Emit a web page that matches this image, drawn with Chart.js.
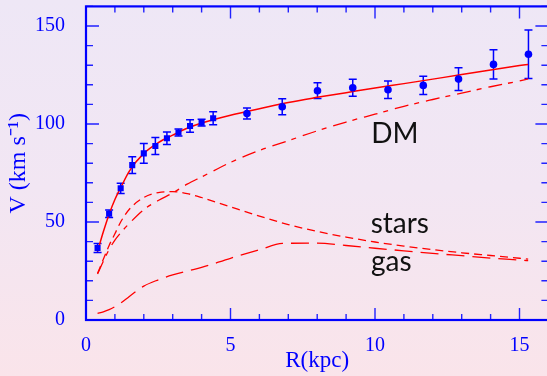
<!DOCTYPE html>
<html><head><meta charset="utf-8">
<script src="https://cdn.jsdelivr.net/npm/chart.js@4.4.0/dist/chart.umd.min.js"></script>
<style>
html,body{margin:0;padding:0;width:547px;height:376px;overflow:hidden;
background:linear-gradient(to bottom,#eee7f6 0%,#f2e6f3 50%,#fae4ea 100%);}
canvas{display:block;}
</style></head><body>
<canvas id="c" width="560" height="376"></canvas>
<script>
// ---- observed rotation curve (squares: inner, circles: outer) ----
const innerR   = [0.4, 0.8, 1.2, 1.6, 2.0, 2.4, 2.8, 3.2, 3.6, 4.0, 4.4];
const innerV   = [36.7, 54.2, 67.2, 79.0, 85.0, 88.8, 92.7, 95.7, 99.0, 100.7, 102.9];
const innerErr = [2.3, 1.9, 2.6, 4.3, 5.0, 4.3, 3.2, 1.8, 3.2, 1.7, 3.3];

const outerR   = [5.57, 6.79, 8.01, 9.23, 10.45, 11.67, 12.89, 14.10, 15.31];
const outerV   = [105.3, 108.8, 117.0, 118.5, 117.5, 119.7, 122.9, 130.4, 135.6];
const outerErr = [2.8, 4.1, 4.0, 4.3, 4.5, 4.6, 5.8, 7.5, 12.4];

// ---- model curves ----
const modelR = [0.4, 0.6, 0.8, 1.0, 1.2, 1.5, 2.0, 2.5, 3.0, 3.5, 4.0, 5.0, 6.0, 7.0, 8.0, 9.0, 10.0, 11.0, 12.0, 13.0, 14.0, 15.0, 15.3];
const totalV = [35.0, 45.0, 54.0, 61.5, 67.5, 76.0, 85.0, 90.5, 94.3, 97.8, 100.5, 104.5, 107.8, 111.0, 113.6, 116.0, 118.4, 120.6, 122.9, 125.2, 127.6, 129.8, 130.4];
const dmV    = [23.5, 30.0, 36.0, 40.8, 44.5, 49.3, 56.3, 61.0, 64.8, 69.3, 73.0, 80.4, 86.5, 91.5, 96.5, 101.0, 105.0, 109.0, 112.5, 115.8, 119.0, 122.0, 123.0];
const starsV = [23.8, 31.0, 38.0, 44.0, 50.0, 56.5, 62.5, 65.0, 65.5, 64.5, 62.5, 57.7, 53.0, 48.7, 45.2, 42.3, 39.8, 37.7, 35.9, 34.3, 32.9, 31.5, 31.1];
const gasR   = [0.4, 0.6, 0.8, 1.0, 1.2, 1.5, 2.0, 2.5, 3.0, 3.5, 4.0, 5.0, 6.0, 6.8, 8.0, 9.0, 10.0, 11.0, 12.0, 13.0, 14.0, 15.0, 15.3];
const gasV   = [3.4, 4.2, 5.3, 6.8, 8.6, 12.0, 17.3, 20.5, 23.0, 25.0, 26.8, 31.5, 35.8, 39.1, 39.2, 38.0, 36.6, 35.3, 34.0, 32.8, 31.6, 30.6, 30.3];

// ---- axes / labels ----
const xMin = 0, xMax = 16, xMajor = 5, xMinor = 1;
const yMin = 0, yMax = 160, yMajor = 50, yMinor = 10;
const xTitle = 'R(kpc)';
const yTitle = 'V (km s\u207B\u00B9)';
const curveLabels = ['DM', 'stars', 'gas'];
const labelR = [9.87, 9.85, 9.86];
const labelV = [90.5, 44.3, 25.0];

const BLUE = '#0000ff', RED = '#ff0000';
const pts = (xs, ys) => xs.map((v, i) => ({x: v, y: ys[i]}));

const errorBars = {
  id: 'errorBars',
  beforeDatasetsDraw(chart) {
    const {ctx, scales: {x, y}} = chart;
    ctx.save();
    ctx.strokeStyle = BLUE;
    ctx.lineWidth = 1.5;
    const draw = (R, V, E) => {
      for (let i = 0; i < R.length; i++) {
        const px = x.getPixelForValue(R[i]);
        const p1 = y.getPixelForValue(V[i] - E[i]);
        const p2 = y.getPixelForValue(V[i] + E[i]);
        ctx.beginPath();
        ctx.moveTo(px, p1); ctx.lineTo(px, p2);
        ctx.moveTo(px - 4, p1); ctx.lineTo(px + 4, p1);
        ctx.moveTo(px - 4, p2); ctx.lineTo(px + 4, p2);
        ctx.stroke();
      }
    };
    draw(innerR, innerV, innerErr);
    draw(outerR, outerV, outerErr);
    ctx.restore();
  }
};

const frame = {
  id: 'frame',
  afterDraw(chart) {
    const {ctx, chartArea: a, scales: {x, y}} = chart;
    ctx.save();
    ctx.strokeStyle = '#2222ff';
    ctx.lineWidth = 1.4;
    ctx.beginPath();
    for (let k = 0; k <= (xMax - xMin) / xMinor; k++) {
      const v = xMin + k * xMinor;
      const px = x.getPixelForValue(v);
      const L = (Math.round(v) % xMajor === 0) ? 12 : 6;
      ctx.moveTo(px, a.bottom); ctx.lineTo(px, a.bottom - L);
      ctx.moveTo(px, a.top); ctx.lineTo(px, a.top + L);
    }
    for (let k = 0; k <= (yMax - yMin) / yMinor; k++) {
      const v = yMin + k * yMinor;
      const py = y.getPixelForValue(v);
      const L = (Math.round(v) % yMajor === 0) ? 13 : 7;
      ctx.moveTo(a.left, py); ctx.lineTo(a.left + L, py);
      ctx.moveTo(a.right, py); ctx.lineTo(a.right - L, py);
    }
    ctx.stroke();
    ctx.strokeStyle = BLUE;
    ctx.lineWidth = 2.2;
    ctx.strokeRect(a.left, a.top, a.right - a.left, a.bottom - a.top);
    ctx.fillStyle = '#111111';
    ctx.font = '28px Lato';
    ctx.textBaseline = 'alphabetic';
    ctx.textAlign = 'left';
    curveLabels.forEach((t, i) => ctx.fillText(t, x.getPixelForValue(labelR[i]), y.getPixelForValue(labelV[i])));
    ctx.restore();
  }
};

const lineDs = (xs, ys, dash, width) => ({
  type: 'line', data: pts(xs, ys), borderColor: RED, borderWidth: width,
  borderDash: dash, pointRadius: 0, fill: false, cubicInterpolationMode: 'monotone'
});

new Chart(document.getElementById('c'), {
  type: 'scatter',
  data: {
    datasets: [
      {data: pts(innerR, innerV), pointStyle: 'rect', pointRadius: 4.3, backgroundColor: BLUE, borderWidth: 0},
      {data: pts(outerR, outerV), pointStyle: 'circle', pointRadius: 3.8, backgroundColor: BLUE, borderWidth: 0},
      lineDs(modelR, totalV, [], 1.5),
      lineDs(modelR, dmV, [14, 6, 5, 7], 1.3),
      lineDs(modelR, starsV, [8, 5], 1.3),
      lineDs(gasR, gasV, [18, 8], 1.3)
    ]
  },
  options: {
    responsive: false,
    animation: false,
    devicePixelRatio: 1,
    layout: {padding: {top: 6.4, right: 11.6, left: 0, bottom: 0}},
    plugins: {legend: {display: false}, tooltip: {enabled: false}},
    scales: {
      x: {
        type: 'linear', min: xMin, max: xMax,
        grid: {display: false}, border: {display: false},
        ticks: {stepSize: xMajor, includeBounds: false, autoSkip: false, maxRotation: 0,
                color: BLUE, padding: 6, font: {family: 'Liberation Serif', size: 20}},
        title: {display: true, text: xTitle, color: BLUE, padding: {top: 0, bottom: 1},
                font: {family: 'Liberation Serif', size: 23}},
        afterFit: s => { s.height = 56; s.paddingLeft = 0; s.paddingRight = 0; }
      },
      y: {
        type: 'linear', min: yMin, max: yMax,
        grid: {display: false}, border: {display: false},
        ticks: {stepSize: yMajor, includeBounds: false, autoSkip: false,
                color: BLUE, padding: 13, font: {family: 'Liberation Serif', size: 20}},
        title: {display: true, text: yTitle, color: BLUE, padding: {top: 4, bottom: 0},
                font: {family: 'Liberation Serif', size: 24}},
        afterFit: s => { s.width = 86; s.paddingTop = 0; s.paddingBottom = 0; }
      }
    }
  },
  plugins: [errorBars, frame]
});
</script>
</body></html>
